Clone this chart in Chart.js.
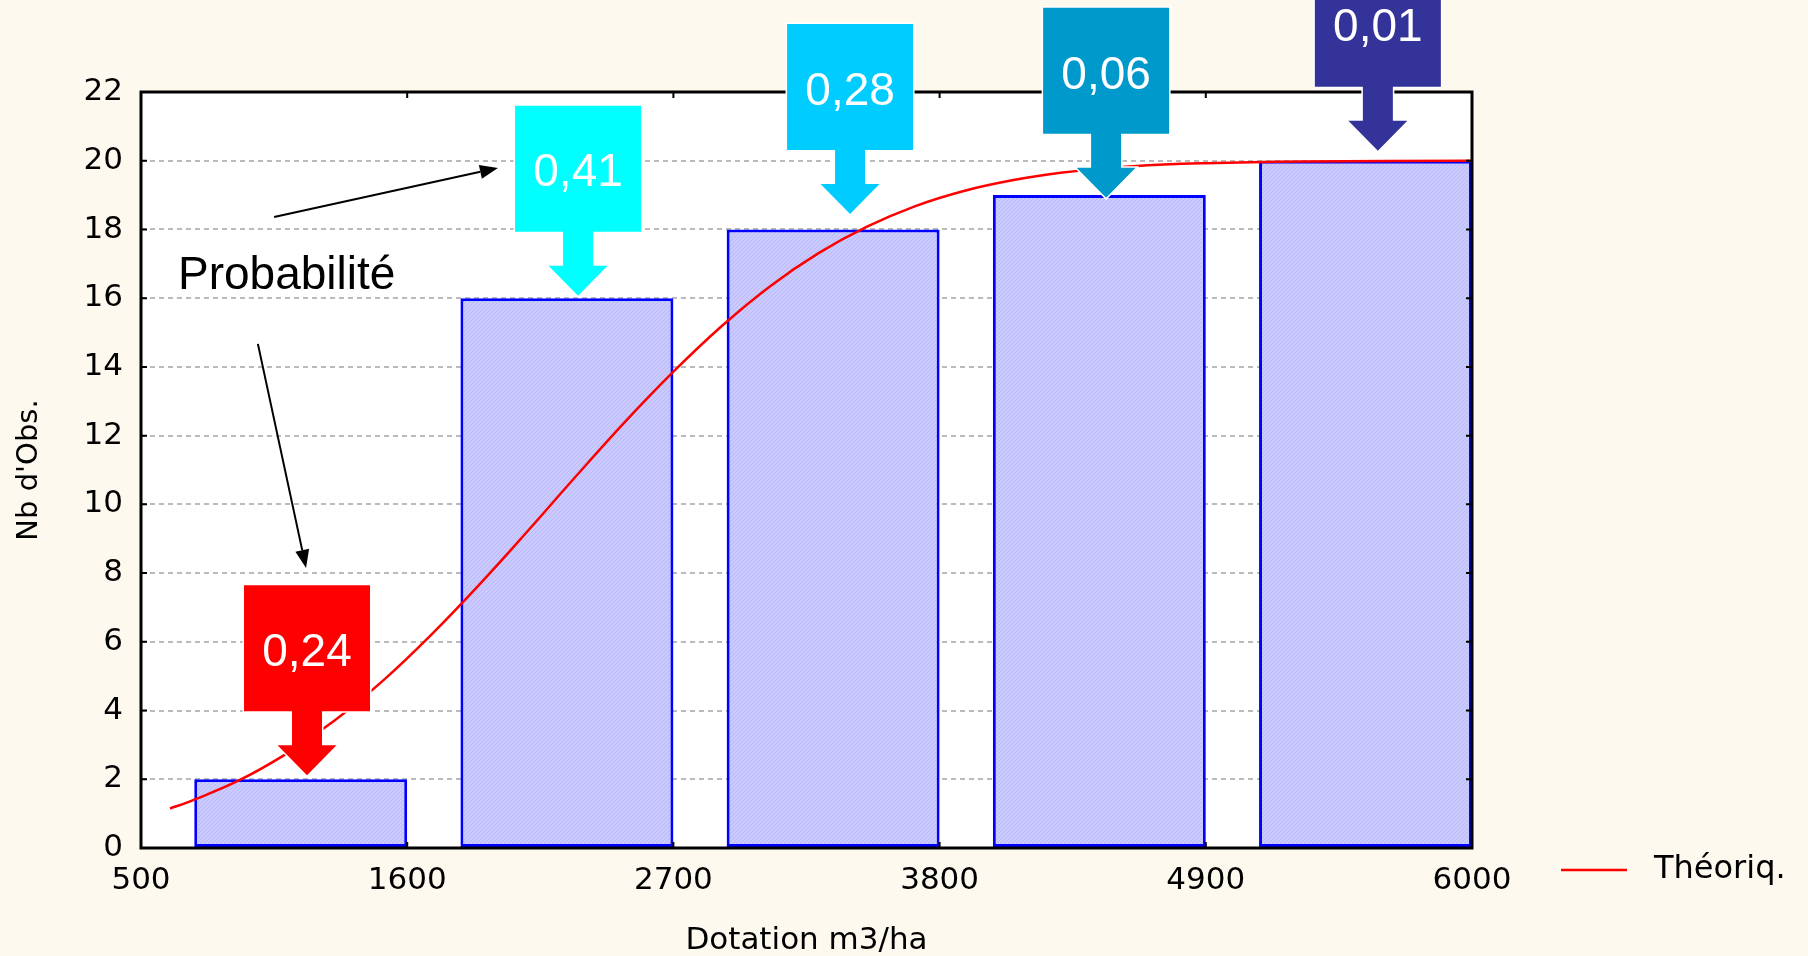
<!DOCTYPE html>
<html lang="fr">
<head>
<meta charset="UTF-8">
<title>Nb d'Obs. - Dotation m3/ha</title>
<script src="https://cdn.jsdelivr.net/npm/chart.js"></script>
<style>
  body { margin: 0; background: #fdf9ef; }
  #c { display: block; }
</style>
</head>
<body>
<canvas id="c" width="1808" height="956"></canvas>
<script>
// histogramme observé (centre des classes, effectifs)
const barX = [1160, 2260, 3360, 4460, 5560];
const barY = [2, 16, 18, 19, 20];

// courbe théorique
const curveX = [620, 700, 900, 1100, 1300, 1500, 1700, 1900, 2100, 2300, 2500, 2700, 2900, 3100, 3300, 3500, 3700, 3900, 4100, 4300, 4600, 4900, 5300, 6000];
const curveY = [1.15, 1.35, 1.95, 2.74, 3.71, 4.87, 6.21, 7.68, 9.24, 10.84, 12.4, 13.86, 15.19, 16.35, 17.31, 18.08, 18.68, 19.12, 19.43, 19.65, 19.84, 19.93, 19.98, 20];

const xTicks = [500, 1600, 2700, 3800, 4900, 6000];
const yMax = 22;

// étiquettes de probabilité (pointe de la flèche en unités du graphique)
const probLabels = ['0,24', '0,41', '0,28', '0,06', '0,01'];
const probTipX = [1186, 2306, 3430, 4488, 5611];
const probTipY = [2.12, 16.07, 18.45, 18.92, 20.29];
const probColors = ['#ff0000', '#00ffff', '#00ccff', '#0099cc', '#333399'];

// texte "Probabilité" et ses deux flèches
const noteText = 'Probabilité';
const notePos = [653, 16.27];
const noteArrows = [
  [1050, 18.36, 1975, 19.79],
  [983, 14.67, 1182, 8.15]
];

const FONT = "'Liberation Sans', Arial, sans-serif";
// le graphique d'origine est étiré en largeur : police plus large pour les axes
const AXIS_FONT = "'DejaVu Sans', sans-serif";
Chart.defaults.font.family = AXIS_FONT;
Chart.defaults.color = '#000';

// motif hachuré des barres
function hatch() {
  const p = document.createElement('canvas');
  p.width = 4; p.height = 4;
  const g = p.getContext('2d');
  g.fillStyle = '#cacaff';
  g.fillRect(0, 0, 4, 4);
  g.fillStyle = '#b9b9f6';
  for (let i = 0; i < 4; i++) g.fillRect(i, 3 - i, 1, 1);
  return g.createPattern(p, 'repeat');
}

function drawArrow(ctx, x1, y1, x2, y2) {
  const a = Math.atan2(y2 - y1, x2 - x1), L = 18, W = 7;
  const bx = x2 - L * Math.cos(a), by = y2 - L * Math.sin(a);
  ctx.beginPath();
  ctx.moveTo(x1, y1);
  ctx.lineTo(bx, by);
  ctx.stroke();
  ctx.beginPath();
  ctx.moveTo(x2, y2);
  ctx.lineTo(bx + W * Math.sin(a), by - W * Math.cos(a));
  ctx.lineTo(bx - W * Math.sin(a), by + W * Math.cos(a));
  ctx.closePath();
  ctx.fill();
}

function drawCallout(ctx, tx, ty, color, text) {
  const bw = 126, bh = 126, sw = 30, sh = 34, hw = 59, hh = 30;
  const top = ty - hh - sh - bh;
  ctx.beginPath();
  ctx.moveTo(tx - bw / 2, top);
  ctx.lineTo(tx + bw / 2, top);
  ctx.lineTo(tx + bw / 2, top + bh);
  ctx.lineTo(tx + sw / 2, top + bh);
  ctx.lineTo(tx + sw / 2, top + bh + sh);
  ctx.lineTo(tx + hw / 2, top + bh + sh);
  ctx.lineTo(tx, ty);
  ctx.lineTo(tx - hw / 2, top + bh + sh);
  ctx.lineTo(tx - sw / 2, top + bh + sh);
  ctx.lineTo(tx - sw / 2, top + bh);
  ctx.lineTo(tx - bw / 2, top + bh);
  ctx.closePath();
  ctx.strokeStyle = '#fff';
  ctx.lineWidth = 3;
  ctx.stroke();
  ctx.fillStyle = color;
  ctx.fill();
  ctx.fillStyle = '#fff';
  ctx.font = '46px ' + FONT;
  ctx.textAlign = 'center';
  ctx.textBaseline = 'middle';
  ctx.fillText(text, tx, top + bh / 2 + 5);
}

const decor = {
  id: 'decor',
  beforeDraw(chart) {
    const { ctx, chartArea: a } = chart;
    ctx.save();
    ctx.fillStyle = '#fff';
    ctx.fillRect(a.left, a.top, a.right - a.left, a.bottom - a.top);
    ctx.restore();
  },
  afterDatasetsDraw(chart) {
    const { ctx, chartArea: a, scales: { x, y } } = chart;
    ctx.save();

    // cadre + graduations intérieures
    ctx.strokeStyle = '#000';
    ctx.lineWidth = 3;
    ctx.strokeRect(a.left, a.top, a.right - a.left, a.bottom - a.top);
    ctx.lineWidth = 2;
    ctx.beginPath();
    x.ticks.forEach(t => {
      const px = x.getPixelForValue(t.value);
      ctx.moveTo(px, a.top); ctx.lineTo(px, a.top + 6);
      ctx.moveTo(px, a.bottom); ctx.lineTo(px, a.bottom - 6);
    });
    y.ticks.forEach(t => {
      const py = y.getPixelForValue(t.value);
      ctx.moveTo(a.left, py); ctx.lineTo(a.left + 6, py);
      ctx.moveTo(a.right, py); ctx.lineTo(a.right - 6, py);
    });
    ctx.stroke();

    // étiquettes de probabilité
    probLabels.forEach((lab, i) => {
      drawCallout(ctx, x.getPixelForValue(probTipX[i]), y.getPixelForValue(probTipY[i]), probColors[i], lab);
    });

    // texte et flèches
    ctx.fillStyle = '#000';
    ctx.strokeStyle = '#000';
    ctx.lineWidth = 2;
    ctx.font = '46px ' + FONT;
    ctx.textAlign = 'left';
    ctx.textBaseline = 'alphabetic';
    ctx.fillText(noteText, x.getPixelForValue(notePos[0]), y.getPixelForValue(notePos[1]));
    noteArrows.forEach(r => {
      drawArrow(ctx, x.getPixelForValue(r[0]), y.getPixelForValue(r[1]), x.getPixelForValue(r[2]), y.getPixelForValue(r[3]));
    });

    // légende
    const ds = chart.data.datasets[1];
    const ly = a.bottom + 22;
    ctx.strokeStyle = ds.borderColor;
    ctx.lineWidth = 2.5;
    ctx.beginPath();
    ctx.moveTo(a.right + 89, ly);
    ctx.lineTo(a.right + 155, ly);
    ctx.stroke();
    ctx.fillStyle = '#000';
    ctx.font = '32px ' + AXIS_FONT;
    ctx.textBaseline = 'middle';
    ctx.fillText(ds.label, a.right + 182, ly);

    ctx.restore();
  }
};

const ctx = document.getElementById('c').getContext('2d');
new Chart(ctx, {
  type: 'bar',
  data: {
    datasets: [
      {
        label: 'Observé',
        data: barX.map((v, i) => ({ x: v, y: barY[i] })),
        backgroundColor: hatch(),
        borderColor: '#0000ff',
        borderWidth: 3,
        borderSkipped: false,
        categoryPercentage: 1,
        barPercentage: 0.8,
        order: 2
      },
      {
        type: 'line',
        label: 'Théoriq.',
        data: curveX.map((v, i) => ({ x: v, y: curveY[i] })),
        borderColor: '#ff0000',
        borderWidth: 2.5,
        pointRadius: 0,
        tension: 0.4,
        order: 1
      }
    ]
  },
  options: {
    responsive: false,
    animation: false,
    layout: { padding: { top: 92, right: 336, left: 0, bottom: 0 } },
    plugins: { legend: { display: false }, tooltip: { enabled: false } },
    scales: {
      x: {
        type: 'linear',
        min: xTicks[0],
        max: xTicks[xTicks.length - 1],
        offset: false,
        afterFit: s => { s.height = 108; },
        ticks: {
          stepSize: xTicks[1] - xTicks[0],
          autoSkip: false,
          maxRotation: 0,
          padding: 14,
          font: { size: 31 },
          callback: v => String(v)
        },
        grid: { display: false, drawTicks: false },
        border: { display: false },
        title: { display: true, text: 'Dotation m3/ha', font: { size: 31 }, padding: { bottom: -4 } }
      },
      y: {
        min: 0,
        max: yMax,
        afterFit: s => { s.width = 141; },
        ticks: { stepSize: 2, padding: 18, font: { size: 31 } },
        grid: { color: '#bbbbbb', lineWidth: 2, drawTicks: false },
        border: { display: false, dash: [5, 4] },
        title: { display: true, text: "Nb d'Obs.", font: { size: 29 }, padding: { top: 12 } }
      }
    }
  },
  plugins: [decor]
});
</script>
</body>
</html>
